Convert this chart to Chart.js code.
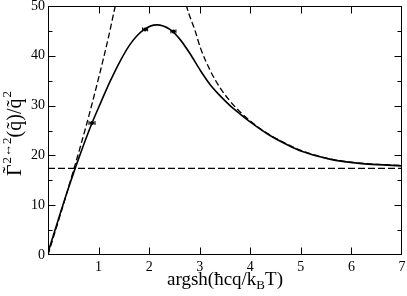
<!DOCTYPE html>
<html lang="en">
<head>
<meta charset="UTF-8">
<title>Gamma 2&lt;-&gt;2 rate</title>
<script src="https://cdn.jsdelivr.net/npm/chart.js"></script>
<style>
  html, body { margin: 0; padding: 0; background: #fff; }
  #wrap { width: 407px; height: 296px; position: relative; }
</style>
</head>
<body>
<div id="wrap"><canvas id="rate-chart"></canvas></div>
<script>
// full result (solid line)
const fullX = [0, 0.2, 0.4, 0.6, 0.87, 1.03, 1.23, 1.43, 1.63, 1.89, 2.15, 2.41, 2.61, 2.81, 3.01, 3.2, 3.4, 3.6, 3.8, 3.99, 4.39, 4.78, 5.0, 5.57, 6.16, 7.0];
const fullY = [0.5, 7.0, 13.3, 19.2, 26.5, 30.3, 34.9, 39.0, 42.4, 45.2, 46.2, 45.3, 43.3, 40.4, 37.1, 34.3, 32.0, 30.0, 28.3, 26.8, 24.0, 21.9, 20.9, 19.25, 18.4, 17.9];

// small q expansion (dashed)
const lowX = [0, 0.25, 0.51, 0.77, 1.0, 1.2, 1.33, 1.4];
const lowY = [0, 8.3, 17.2, 26.5, 35.5, 43.9, 50.0, 53.0];

// large q expansion (dashed)
const highX = [2.70, 2.74, 2.91, 3.01, 3.20, 3.40, 3.60, 3.80, 3.99, 4.19, 4.39, 4.78, 5.0, 5.57, 6.16, 7.0];
const highY = [52.0, 50.0, 45.0, 41.7, 37.2, 33.6, 30.9, 28.7, 27.0, 25.4, 24.1, 22.0, 21.0, 19.3, 18.45, 17.95];

// asymptote
const asymX = [0, 7];
const asymY = [17.4, 17.4];

// data points with x errors
const ptX = [0.87, 1.92, 2.48];
const ptY = [26.5, 45.3, 44.9];
const ptErr = [0.06, 0.05, 0.05];

const xTicks = [1, 2, 3, 4, 5, 6, 7];
const yTicks = [0, 10, 20, 30, 40, 50];

const zip = (xs, ys) => xs.map((x, i) => ({x: x, y: ys[i]}));
const serif = '"Liberation Serif", "Times New Roman", serif';

// draws text with a tilde above it, returns width
function tildeText(ctx, s, x, y, lift) {
    const w = ctx.measureText(s).width;
    ctx.fillText(s, x, y);
    const fs = parseFloat(ctx.font.match(/(\d+(\.\d+)?)px/)[1]);
    ctx.save();
    ctx.textAlign = 'center';
    ctx.fillText('\u02DC', x + w / 2, y - fs * lift);
    ctx.restore();
    return w;
}

const framePlugin = {
    id: 'frame',
    afterDatasetsDraw(chart) {
        const {ctx, chartArea: a, scales: {x, y}} = chart;
        ctx.save();
        ctx.strokeStyle = '#000';
        ctx.lineWidth = 1;
        // error bars
        ptX.forEach((v, i) => {
            const px1 = x.getPixelForValue(v - ptErr[i]);
            const px2 = x.getPixelForValue(v + ptErr[i]);
            const py = y.getPixelForValue(ptY[i]);
            ctx.beginPath();
            ctx.moveTo(px1, py); ctx.lineTo(px2, py);
            ctx.moveTo(px1, py - 2); ctx.lineTo(px1, py + 2);
            ctx.moveTo(px2, py - 2); ctx.lineTo(px2, py + 2);
            ctx.stroke();
        });
        // frame
        const L = Math.round(a.left) + 0.5, R = Math.round(a.right) - 0.5;
        const T = Math.round(a.top) + 0.5, B = Math.round(a.bottom) - 0.5;
        ctx.strokeRect(L, T, R - L, B - T);
        // inward ticks
        ctx.beginPath();
        for (let v = 1; v < 7; v++) {
            const px = Math.round(x.getPixelForValue(v)) + 0.5;
            ctx.moveTo(px, B); ctx.lineTo(px, B - 7);
            ctx.moveTo(px, T); ctx.lineTo(px, T + 7);
        }
        for (let v = 5; v < 50; v += 5) {
            const py = Math.round(y.getPixelForValue(v)) + 0.5;
            const len = v % 10 === 0 ? 7 : 4;
            ctx.moveTo(L, py); ctx.lineTo(L + len, py);
            ctx.moveTo(R, py); ctx.lineTo(R - len, py);
        }
        ctx.stroke();
        ctx.restore();
    },
    afterDraw(chart) {
        const {ctx, chartArea: a} = chart;
        ctx.save();
        ctx.fillStyle = '#000';
        ctx.textBaseline = 'alphabetic';
        ctx.textAlign = 'left';

        // x title: argsh(ħcq/k_B T)
        const big = '19px ' + serif, small = '13px ' + serif;
        ctx.font = big;
        const p1 = 'argsh(\u0127cq/k', p2 = 'B', p3 = 'T)';
        const w1 = ctx.measureText(p1).width, w3 = ctx.measureText(p3).width;
        ctx.font = small;
        const w2 = ctx.measureText(p2).width;
        let xx = (a.left + a.right) / 2 - (w1 + w2 + w3) / 2;
        const base = 285;
        ctx.font = big; ctx.fillText(p1, xx, base); xx += w1;
        ctx.font = small; ctx.fillText(p2, xx, base + 4); xx += w2;
        ctx.font = big; ctx.fillText(p3, xx, base);

        // y title: Γ~^{2↔2}(q~)/q~^2
        ctx.translate(21, 176);
        ctx.rotate(-Math.PI / 2);
        const yb = '20px ' + serif, ys = '13px ' + serif;
        let t = 0;
        ctx.font = yb; t += tildeText(ctx, '\u0393', t, 0, 0.2);
        ctx.font = ys; ctx.fillText('2\u21942', t + 1, -10); t += ctx.measureText('2\u21942').width + 1;
        ctx.font = yb; ctx.fillText('(', t, 0); t += ctx.measureText('(').width;
        t += tildeText(ctx, 'q', t, 0, 0.02);
        ctx.fillText(')/', t, 0); t += ctx.measureText(')/').width;
        t += tildeText(ctx, 'q', t, 0, 0.02);
        ctx.font = ys; ctx.fillText('2', t + 1, -10);
        ctx.restore();
    }
};

const lineSet = (label, xs, ys, extra) => Object.assign({
    label: label,
    data: zip(xs, ys),
    showLine: true,
    borderColor: '#000',
    backgroundColor: '#000',
    pointRadius: 0,
    pointHoverRadius: 0,
    borderWidth: 1.3,
    fill: false
}, extra || {});

new Chart(document.getElementById('rate-chart'), {
    type: 'scatter',
    data: {
        datasets: [
            lineSet('asymptote', asymX, asymY, {borderDash: [7, 3]}),
            lineSet('small q', lowX, lowY, {borderDash: [6, 3], cubicInterpolationMode: 'monotone'}),
            lineSet('large q', highX, highY, {borderDash: [6, 3], cubicInterpolationMode: 'monotone'}),
            lineSet('full', fullX, fullY, {borderWidth: 1.6, cubicInterpolationMode: 'monotone'}),
            {
                label: 'points',
                data: zip(ptX, ptY),
                showLine: false,
                pointRadius: 2,
                pointBackgroundColor: '#000',
                pointBorderColor: '#000',
                pointBorderWidth: 0
            }
        ]
    },
    options: {
        responsive: true,
        maintainAspectRatio: false,
        devicePixelRatio: 1,
        animation: false,
        events: [],
        layout: {padding: {top: 6, right: 5, left: 0, bottom: 0}},
        plugins: {legend: {display: false}, tooltip: {enabled: false}},
        scales: {
            x: {
                type: 'linear',
                min: 0,
                max: 7,
                grid: {display: false, drawTicks: false},
                border: {display: false},
                afterBuildTicks: s => { s.ticks = xTicks.map(v => ({value: v})); },
                afterFit: s => { s.height = 41; s.paddingRight = 0; s.paddingLeft = 0; },
                ticks: {
                    color: '#000',
                    padding: 4,
                    maxRotation: 0,
                    font: {family: serif, size: 14}
                }
            },
            y: {
                type: 'linear',
                min: 0,
                max: 50,
                grid: {display: false, drawTicks: false},
                border: {display: false},
                afterBuildTicks: s => { s.ticks = yTicks.map(v => ({value: v})); },
                afterFit: s => { s.width = 48; s.paddingTop = 0; s.paddingBottom = 0; },
                ticks: {
                    color: '#000',
                    padding: 3,
                    font: {family: serif, size: 14}
                }
            }
        }
    },
    plugins: [framePlugin]
});
</script>
</body>
</html>
